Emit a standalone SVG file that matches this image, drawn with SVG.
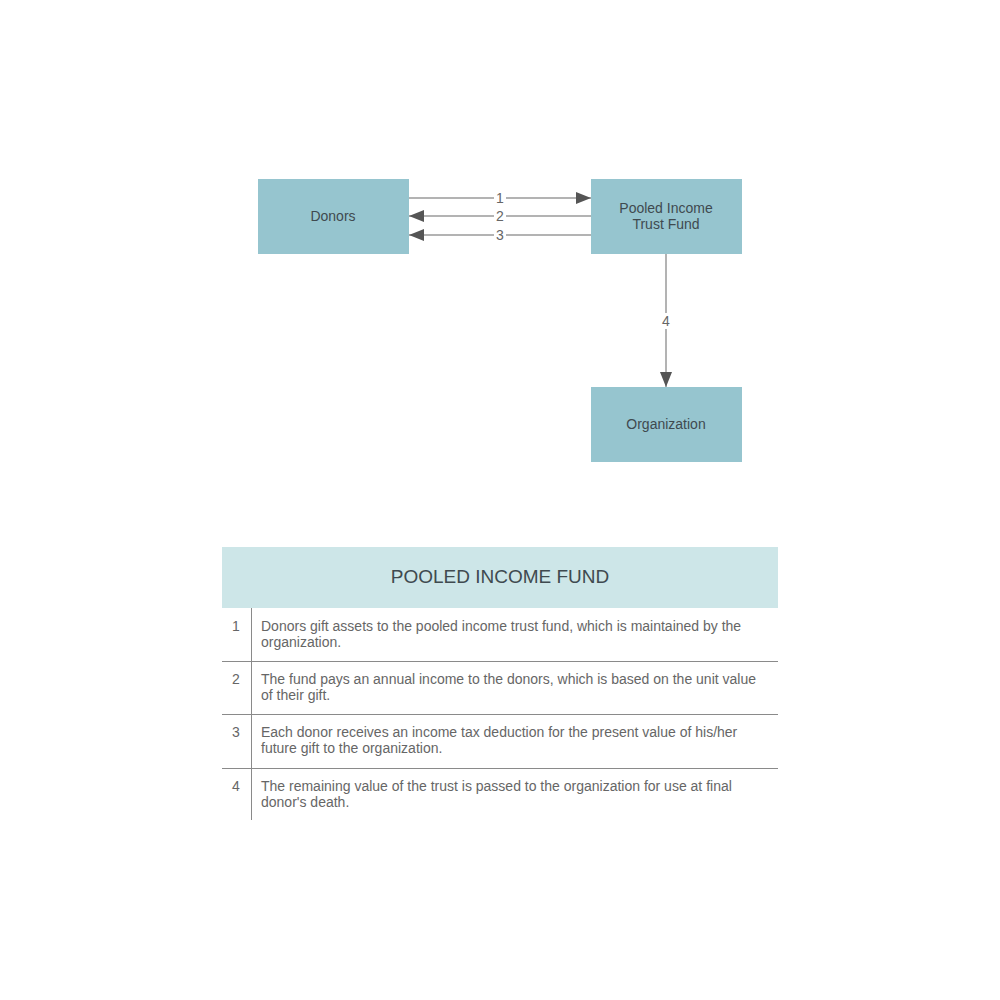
<svg xmlns="http://www.w3.org/2000/svg" width="1000" height="1000" viewBox="0 0 1000 1000">
<defs>
<style>
.node{fill:#96c5cf;}
.nt{font-family:"Liberation Sans",Arial,sans-serif;font-size:14px;fill:#3f4a4f;text-anchor:middle;}
.conn{stroke:#9a9a9a;stroke-width:1.5;fill:none;}
.cl{font-family:"Liberation Sans",Arial,sans-serif;font-size:14px;fill:#666;text-anchor:middle;}
.lb{fill:#fff;}
.tt{font-family:"Liberation Sans",Arial,sans-serif;font-size:14px;fill:#666;}
.tn{font-family:"Liberation Sans",Arial,sans-serif;font-size:14px;fill:#666;text-anchor:middle;}
.tl{stroke:#8a8a8a;stroke-width:1;}
</style>
<marker id="ah" markerWidth="15" markerHeight="12" refX="15" refY="6" orient="auto" markerUnits="userSpaceOnUse">
<path d="M0,0 L15,6 L0,12 Z" fill="#555"/>
</marker>
</defs>
<rect width="1000" height="1000" fill="#fff"/>
<g id="connectors">
<line class="conn" x1="409" y1="198" x2="591" y2="198" marker-end="url(#ah)"/>
<line class="conn" x1="591" y1="216" x2="409" y2="216" marker-end="url(#ah)"/>
<line class="conn" x1="591" y1="235" x2="409" y2="235" marker-end="url(#ah)"/>
<line class="conn" x1="666" y1="254" x2="666" y2="387" marker-end="url(#ah)"/>
<rect class="lb" x="494" y="190" width="12" height="16"/>
<text class="cl" x="500" y="203">1</text>
<rect class="lb" x="494" y="208" width="12" height="16"/>
<text class="cl" x="500" y="221">2</text>
<rect class="lb" x="494" y="227" width="12" height="16"/>
<text class="cl" x="500" y="240">3</text>
<rect class="lb" x="660" y="313" width="12" height="16"/>
<text class="cl" x="666" y="326">4</text>
</g>
<g id="donors">
<rect class="node" x="258" y="179" width="151" height="75"/>
<text class="nt" x="333" y="221">Donors</text>
</g>
<g id="pooled">
<rect class="node" x="591" y="179" width="151" height="75"/>
<text class="nt" x="666" y="213">Pooled Income</text>
<text class="nt" x="666" y="229">Trust Fund</text>
</g>
<g id="organization">
<rect class="node" x="591" y="387" width="151" height="75"/>
<text class="nt" x="666" y="429">Organization</text>
</g>
<g id="table">
<rect x="222" y="547" width="556" height="61" fill="#cde6e8"/>
<text x="500" y="583" font-family="Liberation Sans, Arial, sans-serif" font-size="19" fill="#3f4a4f" text-anchor="middle">POOLED INCOME FUND</text>
<line class="tl" x1="251.5" y1="608" x2="251.5" y2="820"/>
<line class="tl" x1="222" y1="661.5" x2="778" y2="661.5"/>
<line class="tl" x1="222" y1="714.5" x2="778" y2="714.5"/>
<line class="tl" x1="222" y1="768.5" x2="778" y2="768.5"/>
<text class="tn" x="236" y="631">1</text>
<text class="tt" x="261" y="631">Donors gift assets to the pooled income trust fund, which is maintained by the</text>
<text class="tt" x="261" y="647">organization.</text>
<text class="tn" x="236" y="684">2</text>
<text class="tt" x="261" y="684">The fund pays an annual income to the donors, which is based on the unit value</text>
<text class="tt" x="261" y="700">of their gift.</text>
<text class="tn" x="236" y="737">3</text>
<text class="tt" x="261" y="737">Each donor receives an income tax deduction for the present value of his/her</text>
<text class="tt" x="261" y="753">future gift to the organization.</text>
<text class="tn" x="236" y="791">4</text>
<text class="tt" x="261" y="791">The remaining value of the trust is passed to the organization for use at final</text>
<text class="tt" x="261" y="807">donor's death.</text>
</g>
</svg>
